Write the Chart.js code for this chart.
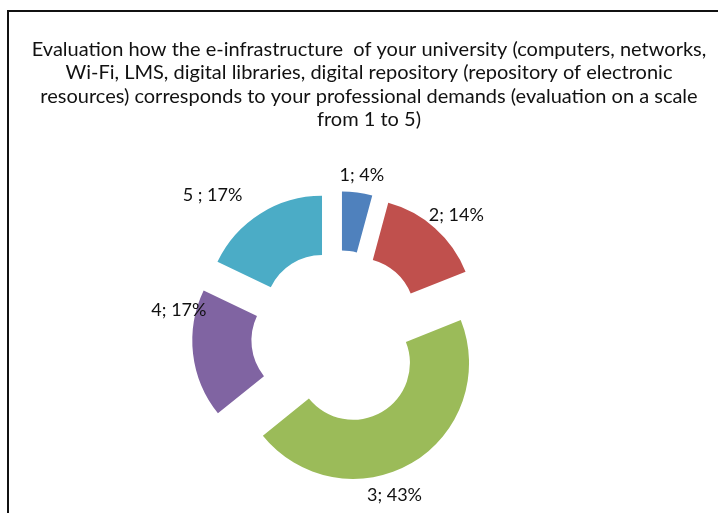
<!DOCTYPE html>
<html>
<head>
<meta charset="utf-8">
<title>Evaluation of university e-infrastructure</title>
<script src="https://cdn.jsdelivr.net/npm/chart.js@4.4.1/dist/chart.umd.min.js"></script>
<style>
  html, body { margin: 0; padding: 0; background: #fff; overflow: hidden; }
  #frame {
    position: absolute; left: 7px; top: 10px; width: 760px; height: 560px;
    border-left: 2px solid #111; border-top: 2px solid #111;
  }
  #wrap { position: absolute; left: 0; top: 0; width: 738px; height: 513px; }
</style>
</head>
<body>
<div id="frame"></div>
<div id="wrap"><canvas id="scoreChart"></canvas></div>
<script>
// Survey answers on a 1..5 scale and their share of respondents (%)
const scores = ['1', '2', '3', '4', '5'];
const shares = [4, 14, 43, 17, 17];
const separators = ['; ', '; ', '; ', '; ', ' ; '];
const sliceColors = ['#4F81BD', '#C0504D', '#9BBB59', '#8064A2', '#4BACC6'];

const titleLines = [
    'Evaluation how the e-infrastructure  of your university (computers, networks,',
    'Wi-Fi, LMS, digital libraries, digital repository (repository of electronic',
    'resources) corresponds to your professional demands (evaluation on a scale',
    'from 1 to 5)'
];

const explodeDistance = 30; // how far every slice is pulled out from the centre

// label position: extra turn (degrees) from the slice middle, gap beyond the outer edge
const labelPlacement = [
    { turn: 1, gap: 18 },
    { turn: 3, gap: 24 },
    { turn: 13, gap: 23 },
    { turn: 20, gap: 17 },
    { turn: -11, gap: 44 }
];

// Draw each arc shifted outward along its own middle angle
const explodePlugin = {
    id: 'explode',
    beforeDatasetDraw(chart, args) {
        const ctx = chart.ctx;
        args.meta.data.forEach(arc => {
            const mid = (arc.startAngle + arc.endAngle) / 2;
            ctx.save();
            ctx.translate(Math.cos(mid) * explodeDistance, Math.sin(mid) * explodeDistance);
            arc.draw(ctx);
            ctx.restore();
        });
        return false;
    }
};

// "score; share%" text next to each slice
const sliceLabels = {
    id: 'sliceLabels',
    afterDatasetsDraw(chart) {
        const ctx = chart.ctx;
        const meta = chart.getDatasetMeta(0);
        ctx.save();
        ctx.font = '18px Lato';
        ctx.fillStyle = '#111';
        ctx.textAlign = 'center';
        ctx.textBaseline = 'middle';
        meta.data.forEach((arc, i) => {
            const mid = (arc.startAngle + arc.endAngle) / 2;
            const cx = arc.x + Math.cos(mid) * explodeDistance;
            const cy = arc.y + Math.sin(mid) * explodeDistance;
            const p = labelPlacement[i];
            const a = mid + p.turn * Math.PI / 180;
            const r = arc.outerRadius + p.gap;
            const text = scores[i] + separators[i] + shares[i] + '%';
            ctx.fillText(text, cx + Math.cos(a) * r, cy + Math.sin(a) * r);
        });
        ctx.restore();
    }
};

const ctx = document.getElementById('scoreChart').getContext('2d');

new Chart(ctx, {
    type: 'doughnut',
    data: {
        labels: scores,
        datasets: [{
            data: shares,
            backgroundColor: sliceColors,
            borderWidth: 0
        }]
    },
    options: {
        responsive: true,
        maintainAspectRatio: false,
        animation: false,
        events: [],
        cutout: '49%',
        layout: {
            padding: { top: 0, left: 0, right: 0, bottom: 60 }
        },
        plugins: {
            title: {
                display: true,
                text: titleLines,
                color: '#111',
                font: { family: 'Lato', size: 20, weight: 'normal', lineHeight: 1.165 },
                padding: { top: 38, bottom: 90 }
            },
            // empty legend on the right only keeps the ring left of the title centre
            legend: {
                display: true,
                position: 'right',
                labels: { filter: () => false, padding: 52 }
            },
            tooltip: { enabled: false }
        }
    },
    plugins: [explodePlugin, sliceLabels]
});
</script>
</body>
</html>
